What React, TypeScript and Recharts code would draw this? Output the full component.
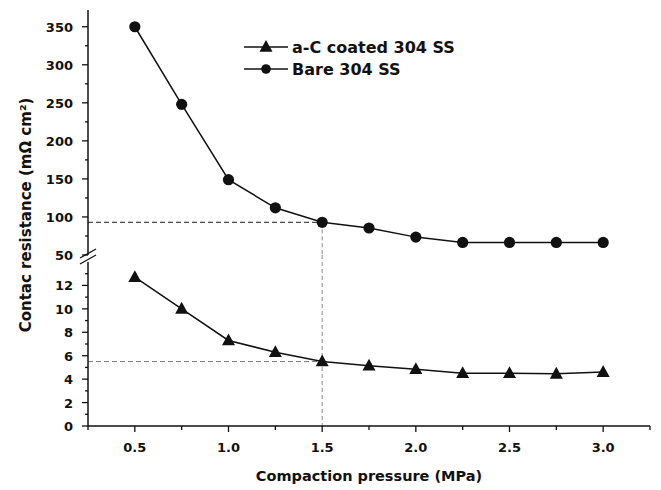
import { LineChart, Line, XAxis, YAxis, ReferenceLine, Legend } from 'recharts';

const pressure = [0.5, 0.75, 1.0, 1.25, 1.5, 1.75, 2.0, 2.25, 2.5, 2.75, 3.0];
const bareValues = [350, 248, 149, 112, 93, 85.5, 73.5, 66.5, 66.5, 66.5, 66.5];
const coatedValues = [12.7, 10.0, 7.3, 6.3, 5.5, 5.15, 4.85, 4.5, 4.5, 4.45, 4.6];

const xTicks = [0.25, 0.5, 0.75, 1.0, 1.25, 1.5, 1.75, 2.0, 2.25, 2.5, 2.75, 3.0, 3.25];
const upperTicks = [50, 75, 100, 125, 150, 175, 200, 225, 250, 275, 300, 325, 350];
const lowerTicks = [0, 1, 2, 3, 4, 5, 6, 7, 8, 9, 10, 11, 12, 13];

const legendLabels = ['a-C coated 304 SS', 'Bare 304 SS'];

const refPressure = 1.5;
const refBare = 93;
const refCoated = 5.5;

const data = pressure.map((p, i) => ({ p, bare: bareValues[i], coated: coatedValues[i] }));

const FONT = '"DejaVu Sans", sans-serif';
const INK = '#111';

function YTick(props: any) {
  const { x, y, payload, step } = props;
  const major = payload.value % step === 0;
  return (
    <g>
      <line x1={x} x2={x - (major ? 6 : 3)} y1={y} y2={y} stroke={INK} strokeWidth={1.3} />
      {major && (
        <text x={x - 15} y={y} dy={5} textAnchor="end" fontFamily={FONT} fontWeight="bold" fontSize={13} fill={INK}>
          {payload.value}
        </text>
      )}
    </g>
  );
}

function XTick(props: any) {
  const { x, y, payload } = props;
  const major = Math.abs((payload.value * 2) % 1) < 1e-6 && payload.value >= 0.5 && payload.value <= 3.0;
  return (
    <g>
      <line x1={x} x2={x} y1={y} y2={y + (major ? 6 : 4)} stroke={INK} strokeWidth={1.3} />
      {major && (
        <text x={x} y={y + 26} textAnchor="middle" fontFamily={FONT} fontWeight="bold" fontSize={13} fill={INK}>
          {payload.value.toFixed(1)}
        </text>
      )}
    </g>
  );
}

function Triangle(props: any) {
  const { cx, cy } = props;
  if (cx == null || cy == null) return null;
  return <path d={`M${cx},${cy - 7} L${cx + 6.5},${cy + 4.8} L${cx - 6.5},${cy + 4.8} Z`} fill={INK} />;
}

function Circle(props: any) {
  const { cx, cy } = props;
  if (cx == null || cy == null) return null;
  return <circle cx={cx} cy={cy} r={5.6} fill={INK} />;
}

function LegendBox() {
  return (
    <svg width={270} height={50}>
      {legendLabels.map((label, i) => {
        const cy = 11 + i * 22;
        return (
          <g key={label}>
            <line x1={0} x2={44} y1={cy} y2={cy} stroke={INK} strokeWidth={1.5} />
            {i === 0 ? <Triangle cx={22} cy={cy} /> : <circle cx={22} cy={cy} r={4.8} fill={INK} />}
            <text x={48} y={cy + 6} fontFamily={FONT} fontWeight="bold" fontSize={16} fill={INK}>
              {label}
            </text>
          </g>
        );
      })}
    </svg>
  );
}

export default function App() {
  return (
    <div style={{ position: 'absolute', left: 0, top: 0, width: 661, height: 490, background: '#fff' }}>
      <div style={{ position: 'absolute', left: 0, top: 255 }}>
        <LineChart width={661} height={235} data={data} margin={{ top: 7, right: 11, bottom: 6, left: 28 }}>
          <XAxis
            type="number"
            dataKey="p"
            domain={[0.25, 3.25]}
            ticks={xTicks}
            interval={0}
            height={58}
            tickSize={0}
            tickMargin={0}
            tickLine={false}
            axisLine={{ stroke: INK, strokeWidth: 1.5 }}
            tick={(p: any) => <XTick {...p} />}
            label={{
              value: 'Compaction pressure (MPa)',
              position: 'insideBottom',
              offset: 3,
              style: { fontFamily: FONT, fontWeight: 'bold', fontSize: 14.5, fill: INK },
            }}
          />
          <YAxis
            type="number"
            domain={[0, 14]}
            ticks={lowerTicks}
            interval={0}
            width={60}
            tickSize={0}
            tickMargin={0}
            tickLine={false}
            axisLine={{ stroke: INK, strokeWidth: 1.5 }}
            tick={(p: any) => <YTick {...p} step={2} />}
          />
          <ReferenceLine
            segment={[{ x: 0.25, y: refCoated }, { x: refPressure, y: refCoated }]}
            stroke="#777"
            strokeDasharray="5 3"
          />
          <ReferenceLine
            segment={[{ x: refPressure, y: 14.6 }, { x: refPressure, y: 0 }]}
            stroke="#888"
            strokeDasharray="4 3"
            ifOverflow="visible"
          />
          <Line
            type="linear"
            dataKey="coated"
            stroke={INK}
            strokeWidth={1.5}
            dot={<Triangle />}
            isAnimationActive={false}
          />
        </LineChart>
      </div>
      <div style={{ position: 'absolute', left: 0, top: 0 }}>
        <LineChart width={661} height={275} data={data} margin={{ top: 10, right: 11, bottom: 20, left: 28 }}>
          <XAxis type="number" dataKey="p" domain={[0.25, 3.25]} hide />
          <YAxis
            type="number"
            domain={[50, 372]}
            ticks={upperTicks}
            interval={0}
            width={60}
            tickSize={0}
            tickMargin={0}
            tickLine={false}
            axisLine={{ stroke: INK, strokeWidth: 1.5 }}
            tick={(p: any) => <YTick {...p} step={50} />}
          />
          <ReferenceLine
            segment={[{ x: 0.25, y: refBare }, { x: refPressure, y: refBare }]}
            stroke="#222"
            strokeDasharray="5 3"
          />
          <ReferenceLine
            segment={[{ x: refPressure, y: refBare }, { x: refPressure, y: 50 }]}
            stroke="#888"
            strokeDasharray="4 3"
          />
          <Legend
            layout="horizontal"
            verticalAlign="middle"
            align="center"
            content={() => <LegendBox />}
            wrapperStyle={{ position: 'absolute', left: 244, top: 36, width: 270, height: 50 }}
          />
          <Line
            type="linear"
            dataKey="bare"
            stroke={INK}
            strokeWidth={1.5}
            dot={<Circle />}
            isAnimationActive={false}
          />
        </LineChart>
      </div>
      <svg width={661} height={490} style={{ position: 'absolute', left: 0, top: 0, pointerEvents: 'none' }}>
        <rect x={84} y={256} width={8} height={6} fill="#fff" />
        <line x1={80} y1={258} x2={96} y2={249} stroke={INK} strokeWidth={1.3} />
        <line x1={80} y1={264} x2={96} y2={255} stroke={INK} strokeWidth={1.3} />
        <text
          x={0}
          y={0}
          transform="translate(31, 215) rotate(-90)"
          textAnchor="middle"
          fontFamily={FONT}
          fontWeight="bold"
          fontSize={15}
          fill={INK}
        >
          Contac resistance (mΩ cm²)
        </text>
      </svg>
    </div>
  );
}
